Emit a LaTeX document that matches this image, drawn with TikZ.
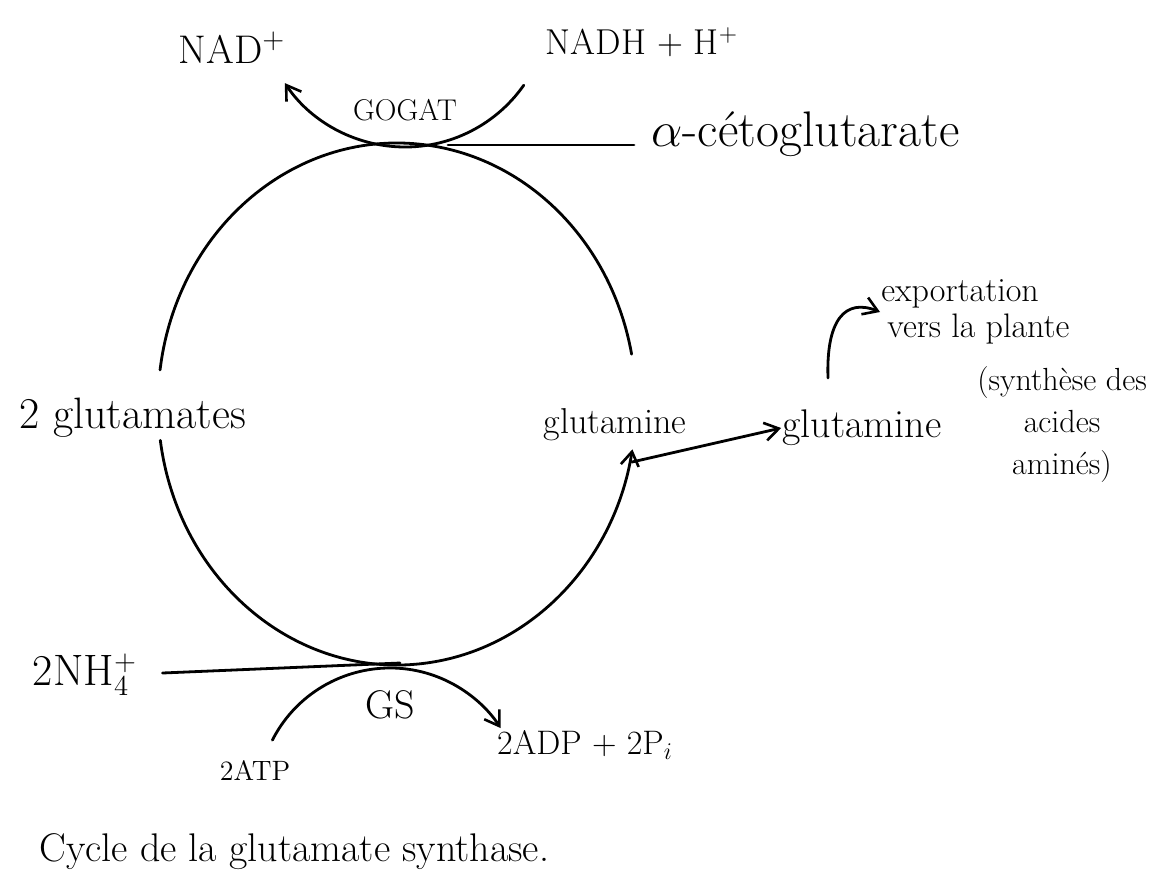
\documentclass[tikz,border=0pt]{standalone}
\usepackage{fontspec}
\usetikzlibrary{arrows.meta}
\begin{document}
\begin{tikzpicture}[x=0.5pt,y=0.5pt,
  line width=1.4pt, line cap=round,
  tip/.style={-{Straight Barb[length=7pt,width=9pt,line width=1.3pt]}},
  lbl/.style={inner sep=0pt, font=\fontsize{#1}{#1}\selectfont},
  lbl/.default=20]
\useasboundingbox (0,0) rectangle (1170,-895);
% centres
\coordinate (circ) at (397,-404);
\coordinate (gogc) at (405,-2);
\coordinate (gsc) at (390,-800);
% labels
\node[lbl=20] (nadp) at (232,-48) {NAD$^{+}$};
\node[lbl=18] (nadh) at (642,-42) {NADH + H$^{+}$};
\node[lbl=15] (gogat) at (405,-110) {GOGAT};
\node[lbl=25, anchor=west] (akg) at (650,-134) {$\alpha$-cétoglutarate};
\node[lbl=22] (glu) at (133,-418) {2 glutamates};
\node[lbl=18] (gln1) at (615,-425) {glutamine};
\node[lbl=20] (gln2) at (862,-428) {glutamine};
\node[lbl=17, anchor=west, align=left, font=\fontsize{17}{18}\selectfont] (exp) at (880,-312) {exportation\\\hspace*{3pt}vers la plante};
\node[lbl=16, align=center, font=\fontsize{16}{21}\selectfont] (syn) at (1062,-425) {(synthèse des\\acides\\aminés)};
\node[lbl=22] (nh4) at (85,-675) {2NH$_4^{+}$};
\node[lbl=20] (gs) at (390,-705) {GS};
\node[lbl=14] (atp) at (255,-770) {2ATP};
\node[lbl=17] (adp) at (585,-745) {2ADP + 2P$_i$};
\node[lbl=20, anchor=west] (cap) at (38,-852) {Cycle de la glutamate synthase.};
% cycle
\draw ([shift={(172.5:119.5pt and 130.5pt)}]circ)
  arc[start angle=172.5, end angle=11, x radius=119.5pt, y radius=130.5pt];
\draw[tip] ([shift={(188:119.5pt and 130.5pt)}]circ)
  arc[start angle=188, end angle=350, x radius=119.5pt, y radius=130.5pt];
% GOGAT
\draw[tip] ([shift={(-35:72.5pt)}]gogc) arc[start angle=-35, end angle=-146, radius=72.5pt];
\coordinate (gtop) at (448,-145);
\draw (gtop) -- ([xshift=-8pt]gtop -| akg.west);
% GS
\draw[tip] ([shift={(153:66pt)}]gsc) arc[start angle=153, end angle=33, radius=66pt];
\coordinate (gbot) at (400,-663);
\draw ([xshift=12pt]nh4.east |- 0,-673) -- (gbot);
% export of glutamine
\coordinate (glnout) at (632,-462);
\draw[tip] (glnout) -- (gln2.west);
\coordinate (expstart) at (828,-378);
\draw[tip] (expstart) .. controls (826,-320) and (845,-298) .. (exp.west);
\end{tikzpicture}
\end{document}
